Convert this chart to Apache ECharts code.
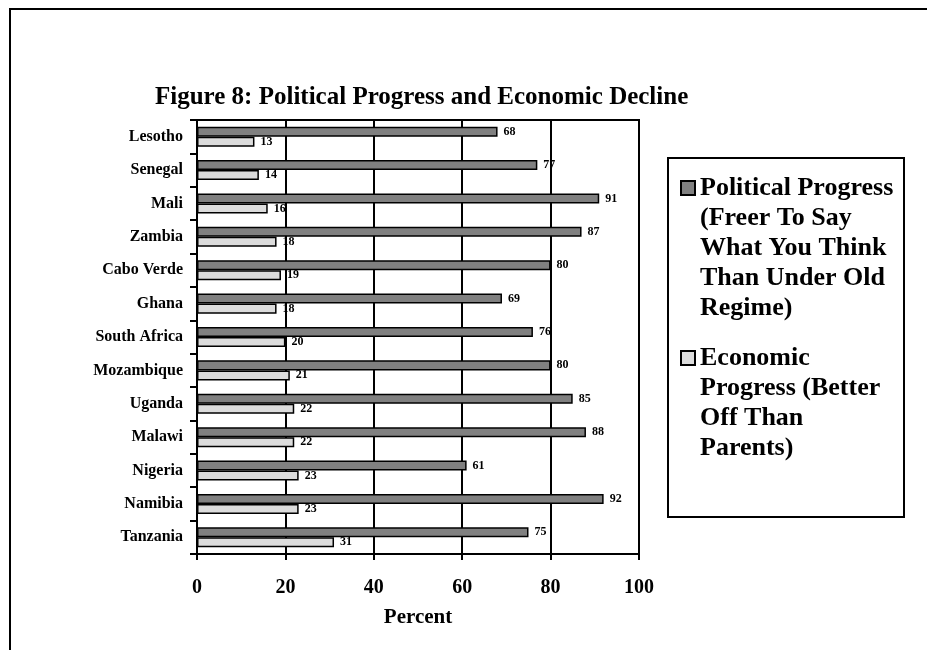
<!DOCTYPE html>
<html>
<head>
<meta charset="utf-8">
<script src="https://cdn.jsdelivr.net/npm/echarts@6/dist/echarts.min.js"></script>
<style>
html, body { margin: 0; padding: 0; background: #fff; }
#chart { width: 927px; height: 650px; }
</style>
</head>
<body>
<div id="chart"></div>
<script>
var countries = ['Lesotho', 'Senegal', 'Mali', 'Zambia', 'Cabo Verde', 'Ghana', 'South Africa',
    'Mozambique', 'Uganda', 'Malawi', 'Nigeria', 'Namibia', 'Tanzania'];
var political = [68, 77, 91, 87, 80, 69, 76, 80, 85, 88, 61, 92, 75];
var economic = [13, 14, 16, 18, 19, 18, 20, 21, 22, 22, 23, 23, 31];
var xTicks = [0, 20, 40, 60, 80, 100];

var politicalName = 'Political Progress\n(Freer To Say\nWhat You Think\nThan Under Old\nRegime)';
var economicName = 'Economic\nProgress (Better\nOff Than\nParents)';

var serif = '"Liberation Serif", "Times New Roman", serif';

var chart = echarts.init(document.getElementById('chart'));

// legend text is centred on its icon; blank lines in front push the
// first real line level with the icon
function legendFor(name, lines, top) {
    var pad = new Array(lines).join('\n');
    return {
        data: [{ name: name, icon: 'rect' }],
        orient: 'vertical',
        left: 680,
        top: top,
        padding: 0,
        itemWidth: 14,
        itemHeight: 14,
        selectedMode: false,
        formatter: function (n) { return pad + n; },
        textStyle: {
            fontFamily: serif,
            fontWeight: 'bold',
            fontSize: 26,
            lineHeight: 30,
            color: '#000'
        }
    };
}

var option = {
    animation: false,
    title: {
        text: 'Figure 8: Political Progress and Economic Decline',
        left: 150,
        top: 80,
        textStyle: { fontFamily: serif, fontWeight: 'bold', fontSize: 25, color: '#000' }
    },
    legend: [
        legendFor(politicalName, 5, 53),
        legendFor(economicName, 4, 253)
    ],
    graphic: [
        { type: 'rect', shape: { x: 10, y: 9, width: 1000, height: 1000 },
          style: { fill: 'none', stroke: '#000', lineWidth: 2 } },
        { type: 'rect', shape: { x: 668, y: 158, width: 236, height: 359 },
          style: { fill: 'none', stroke: '#000', lineWidth: 2 } }
    ],
    grid: {
        left: 197,
        right: 288,
        top: 120,
        bottom: 96,
        show: true,
        borderColor: '#000',
        borderWidth: 2
    },
    xAxis: {
        type: 'value',
        min: 0,
        max: 100,
        interval: 20,
        name: 'Percent',
        nameLocation: 'middle',
        nameGap: 53,
        nameTextStyle: { fontFamily: serif, fontWeight: 'bold', fontSize: 21, color: '#000' },
        axisLine: { show: true, lineStyle: { color: '#000', width: 2 } },
        axisTick: { show: true, length: 6, lineStyle: { color: '#000', width: 2 } },
        axisLabel: {
            margin: 24,
            fontFamily: serif, fontWeight: 'bold', fontSize: 20, color: '#000',
            formatter: function (v) { return xTicks.indexOf(v) >= 0 ? String(v) : ''; }
        },
        splitLine: { show: true, lineStyle: { color: '#000', width: 2 } }
    },
    yAxis: {
        type: 'category',
        data: countries,
        inverse: true,
        axisLine: { show: true, lineStyle: { color: '#000', width: 2 } },
        axisTick: { show: true, length: 7, lineStyle: { color: '#000', width: 2 } },
        axisLabel: {
            margin: 14,
            fontFamily: serif, fontWeight: 'bold', fontSize: 16, color: '#000'
        },
        splitLine: { show: false }
    },
    series: [
        {
            name: politicalName,
            type: 'bar',
            data: political,
            barGap: '0%',
            barCategoryGap: '40%',
            itemStyle: { color: '#808080', borderColor: '#000', borderWidth: 1.5 },
            label: {
                show: true, position: 'right', distance: 6,
                fontFamily: serif, fontWeight: 'bold', fontSize: 12, color: '#000'
            }
        },
        {
            name: economicName,
            type: 'bar',
            data: economic,
            itemStyle: { color: '#dcdcdc', borderColor: '#000', borderWidth: 1.5 },
            label: {
                show: true, position: 'right', distance: 6,
                fontFamily: serif, fontWeight: 'bold', fontSize: 12, color: '#000'
            }
        }
    ]
};

chart.setOption(option);
</script>
</body>
</html>
